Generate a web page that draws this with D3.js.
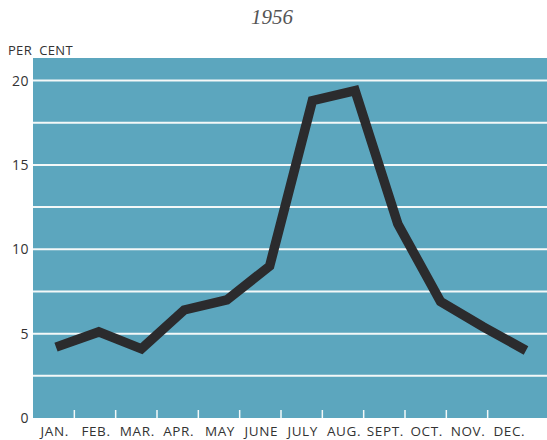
<!DOCTYPE html>
<html lang="en">
	<head>
		<meta charset="utf-8">
		<title>1956</title>
		<script src="https://d3js.org/d3.v7.min.js"></script>
		<style>
			body { margin: 0; background: #fff; }
		</style>
	</head>
	<body>
		<script type="text/javascript">

			// data
			var months = ["JAN.", "FEB.", "MAR.", "APR.", "MAY", "JUNE", "JULY", "AUG.", "SEPT.", "OCT.", "NOV.", "DEC."];
			var values = [4.2, 5.1, 4.1, 6.4, 7.0, 9.0, 18.8, 19.4, 11.5, 6.9, 5.4, 4.0];
			var yTickLabels = [0, 5, 10, 15, 20];
			var gridValues = [2.5, 5, 7.5, 10, 12.5, 15, 17.5, 20];

			var w = 547;
			var h = 440;
			var pLeft = 33, pRight = 547, pTop = 58, pBottom = 418;
			var labelFont = "'Open Sans', 'DejaVu Sans', sans-serif";

			var svg = d3.select("body").append("svg").attr("width", w).attr("height", h);

			// scales
			var yScale = d3.scaleLinear().domain([0, 20]).range([pBottom, 80.5]);
			var xBand = d3.scaleBand().domain(months).range([33, 529]);
			var xPoint = d3.scalePoint().domain(months).range([56, 526]);

			// panel
			svg.append("rect")
				.attr("x", pLeft).attr("y", pTop)
				.attr("width", pRight - pLeft).attr("height", pBottom - pTop)
				.attr("fill", "#5ca6be");

			// gridlines
			svg.selectAll("line.grid")
				.data(gridValues)
				.enter()
				.append("line")
				.attr("class", "grid")
				.attr("x1", pLeft).attr("x2", pRight)
				.attr("y1", function(d) { return yScale(d); })
				.attr("y2", function(d) { return yScale(d); })
				.attr("stroke", "#f4f8f8")
				.attr("stroke-width", 2);

			// month boundary ticks
			svg.selectAll("line.mtick")
				.data(months.slice(1))
				.enter()
				.append("line")
				.attr("class", "mtick")
				.attr("x1", function(d) { return xBand(d); })
				.attr("x2", function(d) { return xBand(d); })
				.attr("y1", pBottom).attr("y2", pBottom - 8)
				.attr("stroke", "#f4f8f8")
				.attr("stroke-width", 1.5);

			// y labels
			svg.selectAll("text.ylab")
				.data(yTickLabels)
				.enter()
				.append("text")
				.attr("class", "ylab")
				.attr("x", 29)
				.attr("y", function(d) { return yScale(d) + 5; })
				.attr("text-anchor", "end")
				.attr("font-family", labelFont)
				.attr("font-size", 14)
				.attr("letter-spacing", 0.5)
				.attr("fill", "#333")
				.text(function(d) { return d; });

			// x labels
			svg.selectAll("text.xlab")
				.data(months)
				.enter()
				.append("text")
				.attr("class", "xlab")
				.attr("x", function(d) { return xBand(d) + xBand.bandwidth() / 2 + 1; })
				.attr("y", 436)
				.attr("text-anchor", "middle")
				.attr("font-family", labelFont)
				.attr("font-size", 13.5)
				.attr("letter-spacing", 0.6)
				.attr("fill", "#333")
				.text(function(d) { return d; });

			// per cent
			svg.append("text")
				.attr("x", 8).attr("y", 55)
				.attr("font-family", labelFont)
				.attr("font-size", 13)
				.attr("letter-spacing", 0.3)
				.attr("fill", "#333")
				.text("PER\u00a0\u00a0CENT");

			// title
			svg.append("text")
				.attr("x", 272).attr("y", 24)
				.attr("text-anchor", "middle")
				.attr("font-family", "'Liberation Serif', serif")
				.attr("font-style", "italic")
				.attr("font-size", 21)
				.attr("fill", "#555")
				.text("1956");

			// line
			var line = d3.line()
				.x(function(d, i) { return xPoint(months[i]); })
				.y(function(d) { return yScale(d); });

			svg.append("path")
				.datum(values)
				.attr("d", line)
				.attr("fill", "none")
				.attr("stroke", "#2b2b2d")
				.attr("stroke-width", 9.5)
				.attr("stroke-linejoin", "miter");

		</script>
	</body>
</html>
